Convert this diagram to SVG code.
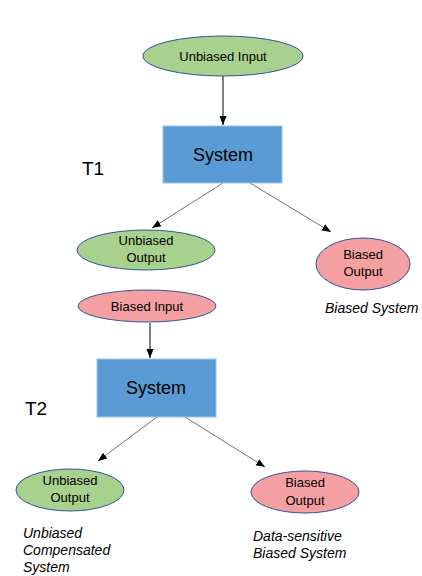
<svg xmlns="http://www.w3.org/2000/svg" width="422" height="576" viewBox="0 0 422 576">
<defs>
<style>
.green{fill:#A9D18E;stroke:#2F5597;stroke-width:1}
.pink{fill:#F4A0A2;stroke:#2F5597;stroke-width:1}
.box{fill:#5B9BD5;stroke:#9DC3E6;stroke-width:1}
.nt{font-family:"Liberation Sans",Arial,sans-serif;font-size:13px;fill:#000;text-anchor:middle}
.st{font-family:"Liberation Sans",Arial,sans-serif;font-size:18px;fill:#000;text-anchor:middle}
.tl{font-family:"Liberation Sans",Arial,sans-serif;font-size:19px;fill:#000}
.it{font-family:"Liberation Sans",Arial,sans-serif;font-size:14px;font-style:italic;fill:#000}
.c{stroke:#000;stroke-width:1;fill:none}
.d{stroke:#333;stroke-width:0.7;fill:none}
</style>
<marker id="ah" viewBox="0 0 10 10" refX="10" refY="5" markerWidth="9" markerHeight="9" markerUnits="userSpaceOnUse" orient="auto">
<path d="M0,1 L10,5 L0,9 Z" fill="#000"/>
</marker>
</defs>
<g id="connectors">
<line class="c" x1="223" y1="76" x2="223" y2="125" marker-end="url(#ah)"/>
<line class="d" x1="223" y1="183" x2="152" y2="228" marker-end="url(#ah)"/>
<line class="d" x1="250" y1="183" x2="331" y2="232" marker-end="url(#ah)"/>
<line class="c" x1="150" y1="323" x2="150" y2="358" marker-end="url(#ah)"/>
<line class="d" x1="157" y1="417" x2="98" y2="461" marker-end="url(#ah)"/>
<line class="d" x1="185" y1="417" x2="265" y2="467" marker-end="url(#ah)"/>
</g>
<g id="unbiased-input">
<ellipse class="green" cx="223" cy="56" rx="80" ry="20"/>
<text class="nt" x="223" y="61">Unbiased Input</text>
</g>
<g id="system1">
<rect class="box" x="163" y="126" width="119" height="57"/>
<text class="st" x="223" y="161">System</text>
</g>
<g id="t1"><text class="tl" x="82" y="175">T1</text></g>
<g id="unbiased-output1">
<ellipse class="green" cx="146" cy="250" rx="69" ry="20"/>
<text class="nt" x="146" y="245">Unbiased</text>
<text class="nt" x="146" y="262">Output</text>
</g>
<g id="biased-output1">
<ellipse class="pink" cx="363" cy="264" rx="47" ry="26"/>
<text class="nt" x="363" y="259">Biased</text>
<text class="nt" x="363" y="276">Output</text>
</g>
<g id="label-biased-system"><text class="it" x="325" y="313">Biased System</text></g>
<g id="biased-input">
<ellipse class="pink" cx="147" cy="306" rx="69" ry="16"/>
<text class="nt" x="147" y="311">Biased Input</text>
</g>
<g id="system2">
<rect class="box" x="97" y="359" width="119" height="58"/>
<text class="st" x="156" y="394">System</text>
</g>
<g id="t2"><text class="tl" x="25" y="415">T2</text></g>
<g id="unbiased-output2">
<ellipse class="green" cx="70" cy="490" rx="54" ry="21"/>
<text class="nt" x="70" y="485">Unbiased</text>
<text class="nt" x="70" y="502">Output</text>
</g>
<g id="biased-output2">
<ellipse class="pink" cx="305" cy="492" rx="54" ry="21"/>
<text class="nt" x="305" y="487">Biased</text>
<text class="nt" x="305" y="505">Output</text>
</g>
<g id="label-compensated">
<text class="it" x="23" y="538">Unbiased</text>
<text class="it" x="23" y="555">Compensated</text>
<text class="it" x="23" y="572">System</text>
</g>
<g id="label-data-sensitive">
<text class="it" x="253" y="541">Data-sensitive</text>
<text class="it" x="253" y="558">Biased System</text>
</g>
</svg>
